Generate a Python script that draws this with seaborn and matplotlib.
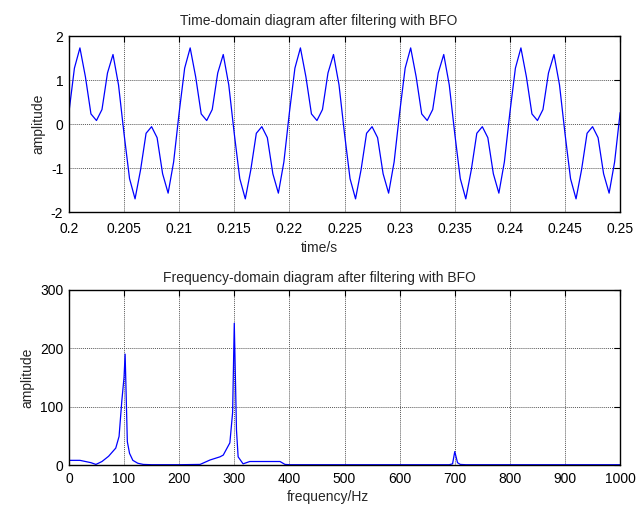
import numpy as np
import pandas as pd
import matplotlib
matplotlib.use("Agg")
import matplotlib.pyplot as plt
import seaborn as sns

t_start, t_end = 0.2, 0.25
amp_time = [
    0.26, 1.27, 1.73, 1.07, 0.23, 0.08, 0.33, 1.16, 1.58, 0.89,
    -0.22, -1.24, -1.70, -1.04, -0.21, -0.06, -0.31, -1.13, -1.57, -0.86,
    0.26, 1.27, 1.73, 1.07, 0.23, 0.08, 0.33, 1.16, 1.58, 0.89,
    -0.22, -1.24, -1.70, -1.04, -0.21, -0.06, -0.31, -1.13, -1.57, -0.86,
    0.26, 1.27, 1.73, 1.07, 0.23, 0.08, 0.33, 1.16, 1.58, 0.89,
    -0.22, -1.24, -1.70, -1.04, -0.21, -0.06, -0.31, -1.13, -1.57, -0.86,
    0.26, 1.27, 1.73, 1.07, 0.23, 0.08, 0.33, 1.16, 1.58, 0.89,
    -0.22, -1.24, -1.70, -1.04, -0.21, -0.06, -0.31, -1.13, -1.57, -0.86,
    0.26, 1.27, 1.73, 1.07, 0.23, 0.08, 0.33, 1.16, 1.58, 0.89,
    -0.22, -1.24, -1.70, -1.04, -0.21, -0.06, -0.31, -1.13, -1.57, -0.86,
    0.26,
]

# amplitude spectrum
freq = [0, 10, 20, 30, 40, 49, 60, 72, 85, 91, 96, 100, 102, 106, 110, 116, 125,
        135, 150, 200, 238, 256, 274, 280, 292, 297, 300, 304, 307, 316, 328,
        350, 383, 392, 400, 500, 600, 690, 696, 700, 705, 710, 720, 800, 900, 1000]
amp_freq = [8, 8, 8, 6, 4, 1, 6, 15, 29, 49, 110, 150, 190, 40, 20, 8, 3,
            1, 0.5, 0.5, 1, 8.6, 14, 17, 38, 90, 243, 60, 14, 2, 6,
            6, 6, 1, 0.5, 0.5, 0.5, 0.5, 2, 23, 4, 1, 0.5, 0.5, 0.5, 0.5]

time_ticks = [0.2, 0.205, 0.21, 0.215, 0.22, 0.225, 0.23, 0.235, 0.24, 0.245, 0.25]
time_labels = ["0.2", "0.205", "0.21", "0.215", "0.22", "0.225", "0.23", "0.235", "0.24", "0.245", "0.25"]

sns.set_style("white")
plt.rcParams["font.family"] = ["Liberation Sans", "DejaVu Sans"]
plt.rcParams["xtick.direction"] = "in"
plt.rcParams["ytick.direction"] = "in"
plt.rcParams["axes.unicode_minus"] = False

df_t = pd.DataFrame({"t": np.linspace(t_start, t_end, len(amp_time)), "a": amp_time})
df_f = pd.DataFrame({"f": freq, "a": amp_freq})

fig = plt.figure(figsize=(6.38, 5.11), dpi=100)
ax1 = fig.add_axes([0.108, 0.585, 0.864, 0.3445])
ax2 = fig.add_axes([0.108, 0.090, 0.864, 0.3425])


def style(ax, xpad):
    ax.grid(True, color="0.35", linestyle=(0, (1, 1)), linewidth=0.7)
    ax.set_axisbelow(True)
    for s in ax.spines.values():
        s.set_color("black")
        s.set_linewidth(1.0)
    ax.tick_params(axis="both", labelsize=10, colors="black", length=4, width=0.8,
                   top=True, right=True)
    ax.tick_params(axis="x", pad=xpad)
    ax.tick_params(axis="y", pad=4)


sns.lineplot(data=df_t, x="t", y="a", ax=ax1, color="#0000ff", linewidth=0.9)
ax1.set_xlim(t_start, t_end)
ax1.set_ylim(-2, 2)
ax1.set_xticks(time_ticks)
ax1.set_xticklabels(time_labels)
ax1.set_yticks([-2, -1, 0, 1, 2])
ax1.set_xlabel("time/s", fontsize=10)
ax1.xaxis.set_label_coords(0.454, -0.165)
ax1.set_ylabel("amplitude", fontsize=10, labelpad=4)
ax1.set_title("Time-domain diagram after filtering with BFO", fontsize=10, pad=8, x=0.454)
style(ax1, 7)

sns.lineplot(data=df_f, x="f", y="a", ax=ax2, color="#0000ff", linewidth=0.9)
ax2.set_xlim(0, 1000)
ax2.set_ylim(0, 300)
ax2.set_xticks(range(0, 1001, 100))
ax2.set_yticks([0, 100, 200, 300])
ax2.set_xlabel("frequency/Hz", fontsize=10)
ax2.xaxis.set_label_coords(0.47, -0.145)
ax2.set_ylabel("amplitude", fontsize=10, labelpad=4)
ax2.set_title("Frequency-domain diagram after filtering with BFO", fontsize=10, pad=6, x=0.454)
style(ax2, 5)

fig.savefig("out.png", dpi=100, facecolor="white")
